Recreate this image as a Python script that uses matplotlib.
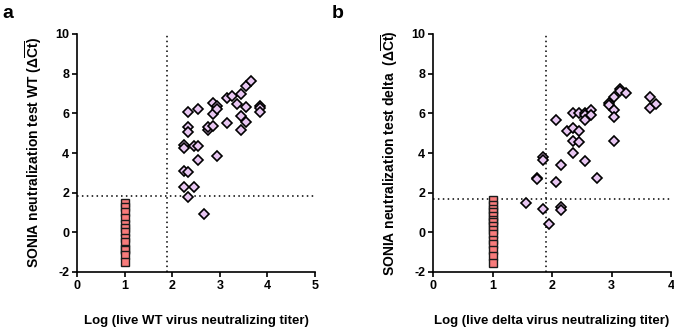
import matplotlib
matplotlib.use("Agg")
import matplotlib.pyplot as plt

plt.rcParams['font.family'] = ['Liberation Sans', 'DejaVu Sans']
plt.rcParams['font.weight'] = 'bold'
plt.rcParams['axes.unicode_minus'] = False
plt.rcParams['mathtext.fontset'] = 'custom'
plt.rcParams['mathtext.rm'] = 'Liberation Sans:bold'
plt.rcParams['mathtext.bf'] = 'Liberation Sans:bold'
plt.rcParams['mathtext.it'] = 'Liberation Sans:bold'

# ---- Panel a: WT ----
wt_pos_x = [2.24, 2.24, 2.24, 2.24, 2.34, 2.34, 2.34, 2.34, 2.34, 2.45, 2.45,
            2.55, 2.55, 2.55, 2.66, 2.76, 2.76, 2.85, 2.85, 2.85, 2.95, 2.95,
            2.95, 3.15, 3.15, 3.25, 3.36, 3.45, 3.45, 3.45, 3.55, 3.55, 3.55,
            3.65, 3.85, 3.85, 3.85]
wt_pos_y = [4.40, 4.24, 3.07, 2.31, 6.08, 5.33, 5.08, 3.04, 1.76, 4.37, 2.31,
            6.20, 4.37, 3.65, 0.92, 5.16, 5.29, 6.50, 5.95, 5.36, 6.37, 6.20,
            3.85, 6.78, 5.49, 6.88, 6.45, 6.97, 5.88, 5.16, 7.37, 6.30, 5.58,
            7.64, 6.38, 6.25, 6.08]
wt_neg_y = [1.5, 1.3, 1.0, 0.7, 0.4, 0.2, 0.0, -0.3, -0.5, -0.85, -0.9, -1.15,
            -1.5]
wt_neg_x = [1.0] * len(wt_neg_y)
wt_cut_x = 1.89
wt_cut_y = 1.81

# ---- Panel b: delta ----
dl_pos_x = [1.555, 1.75, 1.75, 1.85, 1.85, 1.85, 1.95, 2.06, 2.06, 2.15, 2.15,
            2.15, 2.25, 2.36, 2.36, 2.36, 2.36, 2.45, 2.45, 2.45, 2.55, 2.55,
            2.55, 2.55, 2.65, 2.65, 2.76, 2.95, 2.95, 3.05, 3.05, 3.05, 3.05,
            3.15, 3.15, 3.25, 3.65, 3.65, 3.75]
dl_pos_y = [1.47, 2.76, 2.70, 3.82, 3.65, 1.19, 0.44, 5.66, 2.56, 3.37, 1.27,
            1.11, 5.13, 6.03, 5.28, 4.62, 3.99, 6.03, 5.13, 4.54, 6.00, 5.90,
            5.66, 3.60, 6.16, 5.91, 2.73, 6.50, 6.42, 6.80, 6.16, 5.80, 4.62,
            7.22, 7.14, 7.04, 6.83, 6.28, 6.45]
dl_neg_y = [1.65, 1.4, 1.2, 1.05, 0.8, 0.6, 0.5, 0.3, 0.1, -0.1, -0.4, -0.6,
            -0.9, -1.2, -1.55]
dl_neg_x = [1.0] * len(dl_neg_y)
dl_cut_x = 1.90
dl_cut_y = 1.68

DIAMOND_FILL = '#E8C6F2'
SQUARE_FILL = '#F77B7B'

fig = plt.figure(figsize=(6.74, 3.30), dpi=100)
W, H = 674, 330
axa = fig.add_axes([77 / W, 1 - 272 / H, (315 - 77) / W, (272 - 34) / H])
axb = fig.add_axes([433 / W, 1 - 272 / H, (671 - 433) / W, (272 - 34) / H])


def style(ax, xmax, xlabel, ylabel):
    ax.set_xlim(0, xmax)
    ax.set_ylim(-2, 10)
    ax.set_xticks(range(0, xmax + 1))
    ax.set_yticks(range(-2, 11, 2))
    for s in ['top', 'right']:
        ax.spines[s].set_visible(False)
    for s in ['left', 'bottom']:
        ax.spines[s].set_linewidth(1.2)
    ax.tick_params(width=1.2, length=3.5, labelsize=9, pad=2)
    for lab in ax.get_xticklabels() + ax.get_yticklabels():
        lab.set_fontweight('bold')
    ax.set_xlabel(xlabel, fontsize=9.5, fontweight='bold', labelpad=17)
    ax.set_ylabel(ylabel, fontsize=10, fontweight='bold', labelpad=8)


def draw(ax, px, py, nx, ny, cx, cy):
    ax.axvline(cx, color='black', linestyle=(0, (1, 2.2)), linewidth=1.1, zorder=1)
    ax.axhline(cy, color='black', linestyle=(0, (1, 2.2)), linewidth=1.1, zorder=1)
    ax.plot(nx, ny, linestyle='none', marker='s', markersize=5.2,
            markerfacecolor=SQUARE_FILL, markeredgecolor='#1a1a1a',
            markeredgewidth=1.0, zorder=3, clip_on=False)
    ax.plot(px, py, linestyle='none', marker='D', markersize=4.6,
            markerfacecolor=DIAMOND_FILL, markeredgecolor='black',
            markeredgewidth=1.2, zorder=3, clip_on=False)


draw(axa, wt_pos_x, wt_pos_y, wt_neg_x, wt_neg_y, wt_cut_x, wt_cut_y)
draw(axb, dl_pos_x, dl_pos_y, dl_neg_x, dl_neg_y, dl_cut_x, dl_cut_y)

style(axa, 5, 'Log (live WT virus neutralizing titer)',
      r'SONIA neutralization test WT (Δ$\overline{\mathrm{Ct}}$)')
style(axb, 4, 'Log (live delta virus neutralizing titer)',
      r'SONIA neutralization test delta  (Δ$\overline{\mathrm{Ct}}$)')

fig.text(2 / W, 1 - 13 / H, 'a', fontsize=14, fontweight='bold', va='center', ha='left')
fig.text(332 / W, 1 - 13 / H, 'b', fontsize=14, fontweight='bold', va='center', ha='left')

fig.savefig('out.png', dpi=100)
